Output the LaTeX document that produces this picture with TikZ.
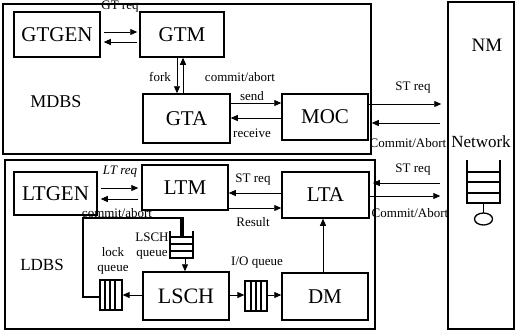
\documentclass[tikz,border=0pt]{standalone}
\usepackage{fontspec}
\setmainfont{Liberation Serif}
\usetikzlibrary{arrows.meta}
\begin{document}
\begin{tikzpicture}[x=1pt,y=-1pt,
  box/.style={draw,line width=1.5pt,inner sep=0pt,font=\fontsize{21}{21}\selectfont},
  frame/.style={draw,line width=1.5pt,inner sep=0pt},
  lbl/.style={font=\fontsize{13}{13}\selectfont,inner sep=0pt},
  big/.style={font=\fontsize{18}{18}\selectfont,inner sep=0pt},
  arr/.style={line width=0.9pt,-{Triangle[length=7pt,width=6pt]}},
  ln/.style={line width=0.9pt},
  qline/.style={line width=1.3pt}]
\useasboundingbox (0,0) rectangle (516,333);
% frames
\node[frame,minimum width=368pt,minimum height=150pt] (mdbs) at (187,79) {};
\node[frame,minimum width=370pt,minimum height=169pt] (ldbs) at (190,244.5) {};
\node[frame,minimum width=66pt,minimum height=327pt] (nm) at (481,165.5) {};
% MDBS boxes
\node[box,minimum width=86pt,minimum height=45pt] (gtgen) at (57,34.5) {GTGEN};
\node[box,minimum width=84pt,minimum height=45pt] (gtm) at (182,34.5) {GTM};
\node[box,minimum width=87pt,minimum height=49pt] (gta) at (186.5,118.5) {GTA};
\node[box,minimum width=86pt,minimum height=46pt] (moc) at (325,117) {MOC};
\node[big] (mdbstxt) at (56,102) {MDBS};
\node[font=\fontsize{19}{19}\selectfont,inner sep=0pt] (nmtxt) at (487,45) {NM};
\node[font=\fontsize{17}{17}\selectfont,inner sep=0pt] (nettxt) at (481,142) {Network};
% MDBS arrows
\draw[arr,shorten <=3pt,shorten >=2pt] (gtgen.east |- 0,32) -- (gtm.west |- 0,32);
\draw[arr,shorten <=2pt,shorten >=3pt] (gtm.west |- 0,42) -- (gtgen.east |- 0,42);
\node[lbl] (gtreq) at (120,7) {GT req};
\draw[arr] (gtm.south -| 177,0) -- (gta.north -| 177,0);
\draw[arr] (gta.north -| 183,0) -- (gtm.south -| 183,0);
\node[lbl] (fork) at (160,77) {fork};
\node[lbl] (ca1) at (240,77) {commit/abort};
\draw[arr] (gta.east |- 0,103) -- (moc.west |- 0,103);
\draw[arr] (moc.west |- 0,118) -- (gta.east |- 0,118);
\node[lbl] (send) at (252,96) {send};
\node[lbl] (recv) at (252,133) {receive};
\draw[arr,shorten >=6pt] (moc.east |- 0,104) -- (nm.west |- 0,104);
\draw[arr,shorten <=7pt,shorten >=3pt] (nm.west |- 0,123) -- (moc.east |- 0,123);
\node[lbl] (streq1) at (413,88) {ST req};
\node[lbl] (ca2) at (408,143) {Commit/Abort};
% LDBS boxes
\node[box,minimum width=83pt,minimum height=43pt] (ltgen) at (55.5,193.5) {LTGEN};
\node[box,minimum width=86pt,minimum height=45pt] (ltm) at (185,187.5) {LTM};
\node[box,minimum width=87pt,minimum height=46pt] (lta) at (325.5,195) {LTA};
\node[box,minimum width=86pt,minimum height=48pt,font=\fontsize{22}{22}\selectfont] (lsch) at (186,296) {LSCH};
\node[box,minimum width=86pt,minimum height=47pt] (dm) at (325,296.5) {DM};
\node[font=\fontsize{17}{17}\selectfont,inner sep=0pt] (ldbstxt) at (42,265) {LDBS};
% LDBS arrows
\draw[arr,shorten <=3pt,shorten >=3pt] (ltgen.east |- 0,188) -- (ltm.west |- 0,188);
\draw[arr,shorten <=3pt,shorten >=3pt] (ltm.west |- 0,199) -- (ltgen.east |- 0,199);
\node[lbl,font=\fontsize{13}{13}\selectfont\itshape] (ltreq) at (120,172) {LT req};
\node[lbl] (ca3) at (117,213) {commit/abort};
\draw[arr] (lta.west |- 0,193) -- (ltm.east |- 0,193);
\draw[arr] (ltm.east |- 0,208) -- (lta.west |- 0,208);
\node[lbl] (streq2) at (253,180) {ST req};
\node[lbl] (result) at (253,222) {Result};
\draw[arr,shorten <=7pt,shorten >=3pt] (nm.west |- 0,183) -- (lta.east |- 0,183);
\draw[arr,shorten >=7pt] (lta.east |- 0,196) -- (nm.west |- 0,196);
\node[lbl] (streq3) at (413,170) {ST req};
\node[lbl] (ca4) at (410,213) {Commit/Abort};
\draw[arr] (dm.north -| 323,0) -- (lta.south -| 323,0);
% network queue
\draw[qline] (467,160) -- (467,203) -- (500,203) -- (500,160);
\foreach \yy in {172,182,193} \draw[qline] (467,\yy) -- (500,\yy);
\draw[qline] (483.5,203) -- (483.5,213);
\draw[qline] (483.5,219) ellipse [x radius=9pt,y radius=6pt];
% LSCH queue
\coordinate (lqtop) at (183,237);
\draw[qline] (170,231) -- (170,258) -- (193,258) -- (193,231);
\foreach \yy in {237,244,251} \draw[qline] (170,\yy) -- (193,\yy);
\node[lbl] (lschq1) at (152,237) {LSCH};
\node[lbl] (lschq2) at (152,255) {queue};
\draw[arr] (185,258) -- (lsch.north -| 185,0);
% lock queue
\node[draw,line width=1.3pt,minimum width=22pt,minimum height=30pt,inner sep=0pt] (lockq) at (111,295) {};
\foreach \xx in {105,110,115} \draw[qline] (\xx,280) -- (\xx,310);
\node[lbl] (lock1) at (113,252) {lock};
\node[lbl] (lock2) at (113,270) {queue};
\draw[arr] (lsch.west |- 0,295) -- (lockq.east |- 0,295);
\draw[line width=1.1pt] (lockq.west |- 0,297) -- (83,297) -- (83,218) -- (183,218) -- (lqtop);
\draw[line width=1.1pt] (181,218) -- (181,237);
% I/O queue
\node[draw,line width=1.3pt,minimum width=22pt,minimum height=30pt,inner sep=0pt] (ioq) at (256,296) {};
\foreach \xx in {251,256,261} \draw[qline] (\xx,281) -- (\xx,311);
\node[lbl] (iolbl) at (257,263) {I/O queue};
\draw[arr] (lsch.east |- 0,295) -- (ioq.west |- 0,295);
\draw[arr] (ioq.east |- 0,295) -- (dm.west |- 0,295);
\end{tikzpicture}
\end{document}
